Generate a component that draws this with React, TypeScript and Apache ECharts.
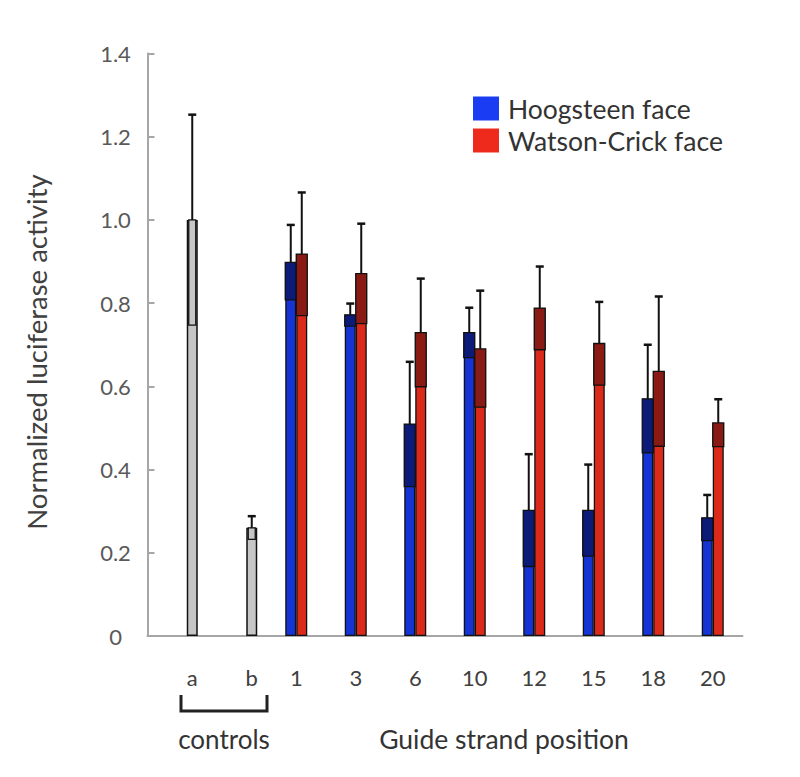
import React, { useEffect, useRef } from "react";
import * as echarts from "echarts";

// ---- data ----
const controlCategories = ["a", "b"];
const positionCategories = ["1", "3", "6", "10", "12", "15", "18", "20"];
const categories = [...controlCategories, ...positionCategories];

const controlMeans = [1.0, 0.26];
const controlErrors = [0.253, 0.028];

const hoogsteenMeans = [0.898, 0.772, 0.509, 0.729, 0.302, 0.302, 0.57, 0.284];
const hoogsteenErrors = [0.09, 0.027, 0.15, 0.06, 0.135, 0.11, 0.13, 0.055];

const watsonCrickMeans = [0.918, 0.871, 0.729, 0.69, 0.788, 0.703, 0.636, 0.512];
const watsonCrickErrors = [0.148, 0.12, 0.13, 0.14, 0.1, 0.1, 0.18, 0.057];

const yTicks = { min: 0, max: 1.4, interval: 0.2 };

const FONT = "Lato";
const BAR_W = 11;

function padControls(values: number[]) {
  return [...controlCategories.map(() => "-"), ...values];
}

function errorRender(offsetSign: number, dark: string, inset: number) {
  return (params: any, api: any) => {
    const cat = api.value(0);
    const mean = api.value(1);
    const err = api.value(2);
    const top = api.coord([cat, mean]);
    const hi = api.coord([cat, mean + err]);
    const lo = api.coord([cat, mean - err]);
    const cx = top[0] + (offsetSign * BAR_W) / 2;
    return {
      type: "group",
      children: [
        {
          type: "rect",
          shape: {
            x: cx - BAR_W / 2 + inset,
            y: top[1],
            width: BAR_W - 2 * inset,
            height: lo[1] - top[1],
          },
          style: { fill: dark, stroke: "#111", lineWidth: 1.3 },
        },
        {
          type: "line",
          shape: { x1: cx, y1: top[1], x2: cx, y2: hi[1] },
          style: { stroke: "#111", lineWidth: 2 },
        },
        {
          type: "line",
          shape: { x1: cx - 4, y1: hi[1], x2: cx + 4, y2: hi[1] },
          style: { stroke: "#111", lineWidth: 2.5 },
        },
      ],
    };
  };
}

export default function App() {
  const ref = useRef<HTMLDivElement>(null);

  useEffect(() => {
    if (!ref.current) return;
    const chart = echarts.init(ref.current, undefined, { renderer: "svg" });

    const hoogErrData = positionCategories.map((c, i) => [c, hoogsteenMeans[i], hoogsteenErrors[i]]);
    const wcErrData = positionCategories.map((c, i) => [c, watsonCrickMeans[i], watsonCrickErrors[i]]);
    const ctrlErrData = controlCategories.map((c, i) => [c, controlMeans[i], controlErrors[i]]);

    const option: any = {
      animation: false,
      backgroundColor: "#ffffff",
      textStyle: { fontFamily: FONT },
      grid: [
        { left: 147.5, right: 57.5, top: 53.5, bottom: 141 },
        { left: 162.5, right: 42.5, top: 53.5, bottom: 141 },
      ],
      legend: {
        orient: "vertical",
        left: 473,
        top: 95,
        padding: 0,
        itemWidth: 26,
        itemHeight: 24,
        itemGap: 5,
        icon: "rect",
        textStyle: {
          fontFamily: FONT,
          fontSize: 26.5,
          color: "#333",
          lineHeight: 24,
          padding: [0, 0, 0, 4],
        },
        data: [
          { name: "Hoogsteen face", itemStyle: { color: "#1a3cf2", borderWidth: 0 } },
          { name: "Watson-Crick face", itemStyle: { color: "#ee2a1c", borderWidth: 0 } },
        ],
      },
      xAxis: [
        {
          type: "category",
          gridIndex: 0,
          data: categories,
          axisLine: { show: true, lineStyle: { color: "#a6a6a6", width: 2 } },
          axisTick: { show: false },
          axisLabel: {
            fontFamily: FONT,
            fontSize: 22,
            color: "#404040",
            margin: 30,
            formatter: (v: string) => (controlCategories.includes(v) ? "" : v),
          },
        },
        {
          type: "category",
          gridIndex: 1,
          data: categories,
          axisLine: { show: false },
          axisTick: { show: false },
          axisLabel: {
            fontFamily: FONT,
            fontSize: 22,
            color: "#404040",
            margin: 30,
            formatter: (v: string) => (controlCategories.includes(v) ? v : ""),
          },
        },
      ],
      yAxis: [
        {
          type: "value",
          gridIndex: 0,
          min: yTicks.min,
          max: yTicks.max,
          interval: yTicks.interval,
          splitLine: { show: false },
          axisLine: { show: true, lineStyle: { color: "#a6a6a6", width: 2 } },
          axisTick: { show: true, inside: true, length: 7, lineStyle: { color: "#a6a6a6", width: 2 } },
          axisLabel: {
            fontFamily: FONT,
            fontSize: 22,
            color: "#595959",
            align: "center",
            margin: 32,
            formatter: (v: number) => (v === 0 ? "0" : v.toFixed(1)),
          },
        },
        {
          type: "value",
          gridIndex: 1,
          min: yTicks.min,
          max: yTicks.max,
          interval: yTicks.interval,
          show: false,
        },
      ],
      series: [
        {
          name: "Hoogsteen face",
          type: "bar",
          xAxisIndex: 0,
          yAxisIndex: 0,
          barWidth: BAR_W,
          barGap: "0%",
          data: padControls(hoogsteenMeans),
          itemStyle: { color: "#1633d4", borderColor: "#111", borderWidth: 1.3 },
        },
        {
          name: "Watson-Crick face",
          type: "bar",
          xAxisIndex: 0,
          yAxisIndex: 0,
          barWidth: BAR_W,
          barGap: "0%",
          data: padControls(watsonCrickMeans),
          itemStyle: { color: "#dc2a1a", borderColor: "#111", borderWidth: 1.3 },
        },
        {
          name: "controls",
          type: "bar",
          xAxisIndex: 1,
          yAxisIndex: 1,
          barWidth: BAR_W,
          data: [...controlMeans, ...positionCategories.map(() => "-")],
          itemStyle: { color: "#c6c6c6", borderColor: "#111", borderWidth: 1.5 },
        },
        {
          name: "Hoogsteen error",
          type: "custom",
          xAxisIndex: 0,
          yAxisIndex: 0,
          z: 5,
          data: hoogErrData,
          encode: { x: 0, y: 1 },
          renderItem: errorRender(-1, "#0c1a78", 0),
        },
        {
          name: "Watson-Crick error",
          type: "custom",
          xAxisIndex: 0,
          yAxisIndex: 0,
          z: 5,
          data: wcErrData,
          encode: { x: 0, y: 1 },
          renderItem: errorRender(1, "#8a1a14", 0),
        },
        {
          name: "controls error",
          type: "custom",
          xAxisIndex: 1,
          yAxisIndex: 1,
          z: 5,
          data: ctrlErrData,
          encode: { x: 0, y: 1 },
          renderItem: errorRender(0, "#c6c6c6", 2),
        },
      ],
      graphic: [
        {
          type: "text",
          x: 36,
          y: 352,
          rotation: Math.PI / 2,
          style: {
            text: "Normalized luciferase activity",
            fontFamily: FONT,
            fontSize: 27.5,
            fill: "#404040",
            align: "center",
            verticalAlign: "middle",
          },
        },
        {
          type: "polyline",
          shape: { points: [[181, 695], [181, 711], [267, 711], [267, 695]] },
          style: { stroke: "#222", lineWidth: 3, fill: null },
        },
        {
          type: "text",
          x: 224,
          y: 739,
          style: {
            text: "controls",
            fontFamily: FONT,
            fontSize: 26,
            fill: "#333",
            align: "center",
            verticalAlign: "middle",
          },
        },
        {
          type: "text",
          x: 504,
          y: 739,
          style: {
            text: "Guide strand position",
            fontFamily: FONT,
            fontSize: 26.5,
            fill: "#333",
            align: "center",
            verticalAlign: "middle",
          },
        },
      ],
    };

    chart.setOption(option);
    return () => chart.dispose();
  }, []);

  return (
    <div
      ref={ref}
      style={{ position: "absolute", left: 0, top: 0, width: 800, height: 777, background: "#fff" }}
    />
  );
}
